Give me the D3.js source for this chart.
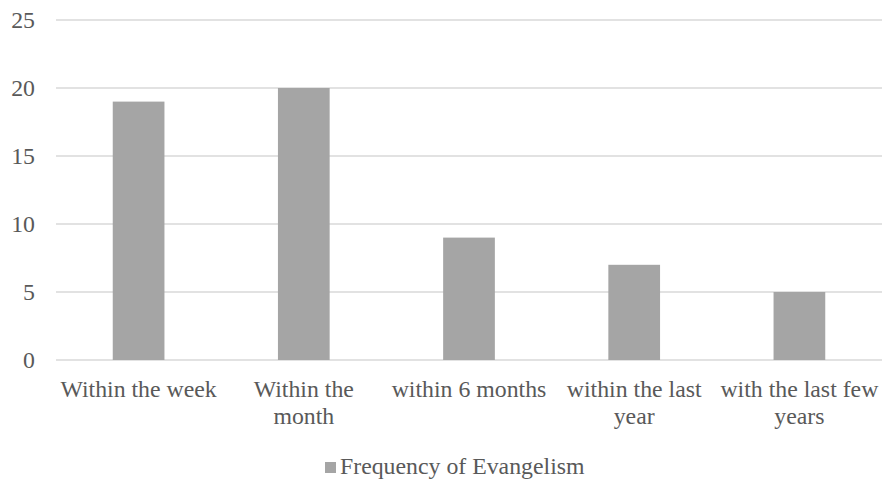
<!DOCTYPE html>
<html>
<head>
<meta charset="utf-8">
<script src="https://cdn.jsdelivr.net/npm/d3@7"></script>
<style>
  body { margin: 0; background: #fff; }
  svg { display: block; }
  text { font-family: "Liberation Serif", "Times New Roman", serif; fill: #595959; }
</style>
</head>
<body>
<svg id="chart" width="886" height="481"></svg>
<script>
const categories = ["Within the week", "Within the month", "within 6 months", "within the last year", "with the last few years"];
const values = [19, 20, 9, 7, 5];
const yTicks = [0, 5, 10, 15, 20, 25];
const seriesName = "Frequency of Evangelism";

const svg = d3.select("#chart");
const plotLeft = 56, plotRight = 882, plotTop = 20, plotBottom = 360;
const fontSize = 23.8;

const x = d3.scaleBand().domain(categories).range([plotLeft, plotRight])
  .paddingInner(0.687).paddingOuter(0.3435);
const y = d3.scaleLinear().domain([0, 25]).range([plotBottom, plotTop]);

// horizontal gridlines
svg.append("g").selectAll("line").data(yTicks).join("line")
  .attr("x1", plotLeft).attr("x2", plotRight)
  .attr("y1", d => y(d)).attr("y2", d => y(d))
  .attr("stroke", "#D9D9D9").attr("stroke-width", 1.3);

// y tick labels
svg.append("g").selectAll("text").data(yTicks).join("text")
  .attr("x", 35).attr("y", d => y(d)).attr("dy", "0.35em")
  .attr("text-anchor", "end").attr("font-size", fontSize)
  .text(d => d);

// bars
svg.append("g").selectAll("rect").data(values).join("rect")
  .attr("x", (d, i) => x(categories[i]))
  .attr("y", d => y(d))
  .attr("width", x.bandwidth())
  .attr("height", d => y(0) - y(d))
  .attr("fill", "#A5A5A5");

// category labels, wrapped to fit the band
const wrapWidth = 163, lineHeight = 27;
svg.append("g").selectAll("text").data(categories).join("text")
  .attr("text-anchor", "middle").attr("font-size", fontSize)
  .each(function (d) {
    const t = d3.select(this);
    const cx = x(d) + x.bandwidth() / 2;
    const words = d.split(" ");
    const lines = [];
    let cur = [];
    const probe = t.append("tspan");
    words.forEach(w => {
      const tryLine = cur.concat([w]).join(" ");
      probe.text(tryLine);
      if (probe.node().getComputedTextLength() > wrapWidth && cur.length) {
        lines.push(cur.join(" "));
        cur = [w];
      } else {
        cur.push(w);
      }
    });
    lines.push(cur.join(" "));
    probe.remove();
    lines.forEach((ln, i) => {
      t.append("tspan").attr("x", cx).attr("y", 397 + i * lineHeight).text(ln);
    });
  });

// legend
const legend = svg.append("g");
legend.append("rect").attr("x", 325).attr("y", 462).attr("width", 11).attr("height", 11).attr("fill", "#A5A5A5");
legend.append("text").attr("x", 340).attr("y", 474).attr("font-size", fontSize).text(seriesName);
</script>
</body>
</html>
